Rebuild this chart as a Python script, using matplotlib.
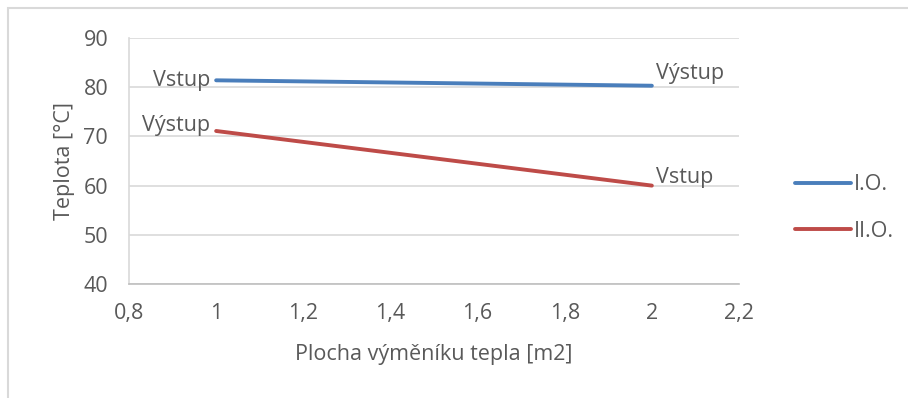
import matplotlib.pyplot as plt
import matplotlib as mpl
from matplotlib.patches import Rectangle

# data
area = [1, 2]
temp_io = [81.4, 80.3]
temp_iio = [71.1, 60.0]
labels_io = ['Vstup', 'Výstup']
labels_iio = ['Výstup', 'Vstup']
series_names = ['I.O.', 'II.O.']
xticks = [0.8, 1.0, 1.2, 1.4, 1.6, 1.8, 2.0, 2.2]
yticks = [40, 50, 60, 70, 80, 90]

TEXT = '#595959'
BLUE = '#4A7EBB'
RED = '#BE4B48'
GRID = '#D9D9D9'

mpl.rcParams['font.family'] = ['Open Sans', 'DejaVu Sans']

fig = plt.figure(figsize=(9.08, 3.98), dpi=100)
W, H = 908, 398
ax = fig.add_axes([129 / W, 1 - 284 / H, (739 - 129) / W, (284 - 38) / H])

# outer chart frame (only top and left edges fall inside the picture)
fig.patches.append(Rectangle((8 / W, -0.05), 1.05, 1.05 - 8 / H,
                             transform=fig.transFigure, fill=False,
                             edgecolor='#D9D9D9', linewidth=1.5))

l1, = ax.plot(area, temp_io, color=BLUE, linewidth=2.8, solid_capstyle='round')
l2, = ax.plot(area, temp_iio, color=RED, linewidth=2.8, solid_capstyle='round')

fs = 15.5
lab = dict(textcoords='offset points', va='center', color=TEXT, fontsize=fs)
ax.annotate(labels_io[0], (area[0], temp_io[0]), xytext=(-4, 0), ha='right', **lab)
ax.annotate(labels_io[1], (area[1], temp_io[1]), xytext=(3, 9), ha='left', **lab)
ax.annotate(labels_iio[0], (area[0], temp_iio[0]), xytext=(-4, 3.6), ha='right', **lab)
ax.annotate(labels_iio[1], (area[1], temp_iio[1]), xytext=(3, 5.6), ha='left', **lab)

ax.set_xlim(0.8, 2.2)
ax.set_ylim(40, 90)
ax.set_xticks(xticks)
ax.set_xticklabels([f'{v:g}'.replace('.', ',') for v in xticks])
ax.set_yticks(yticks)
ax.tick_params(length=0, labelsize=fs, colors=TEXT)
ax.tick_params(axis='x', pad=14)
ax.tick_params(axis='y', pad=15)
ax.grid(axis='y', color=GRID, linewidth=1.2)
ax.set_axisbelow(True)
for s in ['top', 'right']:
    ax.spines[s].set_visible(False)
ax.spines['left'].set_color(GRID)
ax.spines['bottom'].set_color('#BFBFBF')
ax.spines['left'].set_linewidth(1.2)
ax.spines['bottom'].set_linewidth(1.2)

ax.set_xlabel('Plocha výměníku tepla [m2]', fontsize=fs, color=TEXT, labelpad=14)
ax.set_ylabel('Teplota [°C]', fontsize=fs, color=TEXT, labelpad=6)

fig.legend([l1, l2], series_names, loc='center left',
           bbox_to_anchor=(786 / W, 1 - 208 / H), frameon=False,
           fontsize=fs, labelcolor=TEXT, handlelength=2.6, handletextpad=0.15,
           labelspacing=1.2, borderaxespad=0)

fig.savefig('out.png', dpi=100)
